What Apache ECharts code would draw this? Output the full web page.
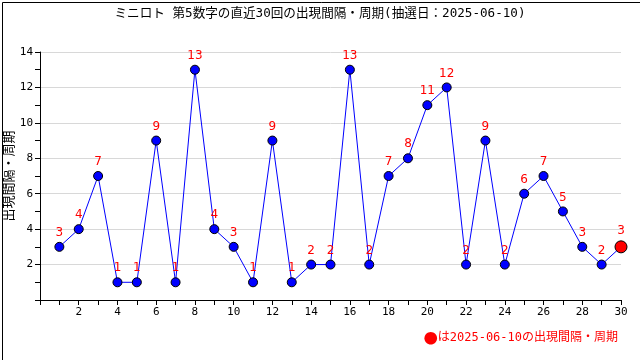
<!DOCTYPE html>
<html><head><meta charset="utf-8">
<script src="https://cdn.jsdelivr.net/npm/echarts@6/dist/echarts.min.js"></script>
<style>html,body{margin:0;padding:0;background:#fff}#c{width:640px;height:360px}</style>
</head><body><div id="c"></div>
<script>
const titleText = 'ミニロト 第5数字の直近30回の出現間隔・周期(抽選日：2025-06-10)';
const yAxisName = '出現間隔・周期';
const legendMark = '●';
const legendText = 'は2025-06-10の出現間隔・周期';
const draws = [1,2,3,4,5,6,7,8,9,10,11,12,13,14,15,16,17,18,19,20,21,22,23,24,25,26,27,28,29,30];
const intervals = [3,4,7,1,1,9,1,13,4,3,1,9,1,2,2,13,2,7,8,11,12,2,9,2,6,7,5,3,2,3];

const font = '"DejaVu Sans Mono", "Noto Sans CJK JP", monospace';
const cjk = '"Noto Sans CJK JP", sans-serif';
const data = draws.map((d, i) => {
  const item = { value: [d, intervals[i]] };
  if (i === draws.length - 1) {
    item.symbolSize = 12;
    item.itemStyle = { color: '#ff0000', borderColor: '#000', borderWidth: 1 };
  }
  return item;
});

const chart = echarts.init(document.getElementById('c'), null, { renderer: 'canvas' });
chart.setOption({
  animation: false,
  backgroundColor: '#fff',
  title: {
    text: titleText, left: 'center', top: 2,
    textStyle: { fontFamily: font, fontSize: 12.6, fontWeight: 'normal', color: '#000' }
  },
  grid: { left: 40, right: 19, top: 52, bottom: 60, containLabel: false, outerBoundsMode: 'none' },
  xAxis: {
    type: 'value', min: 0, max: 30, interval: 2,
    axisLine: { show: true, lineStyle: { color: '#000', width: 1 } },
    axisTick: { show: true, inside: false, length: 5, lineStyle: { color: '#000' } },
    minorTick: { show: true, splitNumber: 2, length: 5, lineStyle: { color: '#000' } },
    axisLabel: { showMinLabel: false, color: '#000', fontSize: 11, fontFamily: font, margin: 7 },
    splitLine: { show: false }
  },
  yAxis: {
    type: 'value', min: 0, max: 14, interval: 2,
    name: yAxisName, nameLocation: 'middle', nameGap: 25, nameRotate: 90,
    nameMoveOverlap: false,
    nameTextStyle: { fontFamily: cjk, fontSize: 13, color: '#000' },
    axisLine: { show: true, lineStyle: { color: '#000', width: 1 } },
    axisTick: { show: true, inside: false, length: 5, lineStyle: { color: '#000' } },
    minorTick: { show: true, splitNumber: 2, length: 5, lineStyle: { color: '#000' } },
    axisLabel: { showMinLabel: false, color: '#000', fontSize: 11, fontFamily: font, margin: 7 },
    splitLine: { show: true, lineStyle: { color: '#d8d8d8', width: 1 } }
  },
  series: [{
    type: 'line',
    data: data,
    symbol: 'circle', symbolSize: 9,
    lineStyle: { color: '#0000ff', width: 1 },
    itemStyle: { color: '#0000ff', borderColor: '#000', borderWidth: 1 },
    label: { show: true, position: 'top', distance: 3, color: '#ff0000', fontSize: 12, fontFamily: '"DejaVu Sans", sans-serif' }
  }],
  graphic: [
    { type: 'rect', left: 0, top: 0, shape: { x: 0.5, y: 0.5, width: 639, height: 359 },
      style: { fill: null, stroke: '#000', lineWidth: 1 }, silent: true },
    { type: 'text', right: 22, top: 331,
      style: {
        text: '{m|' + legendMark + '}{t|' + legendText + '}',
        rich: {
          m: { fill: '#ff0000', fontFamily: cjk, fontSize: 14 },
          t: { fill: '#ff0000', fontFamily: font, fontSize: 12 }
        }
      } }
  ]
});
</script></body></html>
